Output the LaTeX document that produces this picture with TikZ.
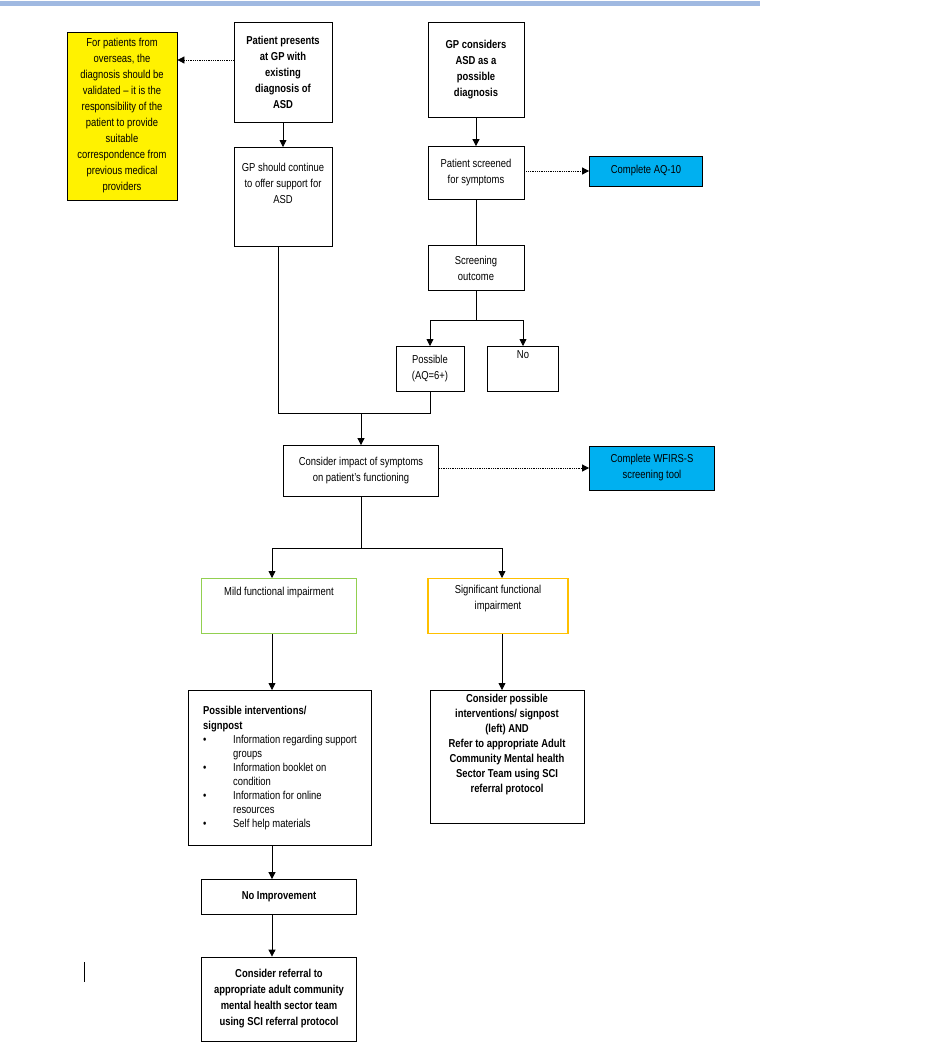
\documentclass[tikz,border=0pt]{standalone}
\usepackage{fontspec}
\setmainfont{Liberation Sans}[FakeStretch=0.82]
\usetikzlibrary{arrows.meta,positioning}
\definecolor{skyfill}{RGB}{0,176,240}
\definecolor{mildgreen}{RGB}{146,208,80}
\definecolor{sigorange}{RGB}{255,192,0}
\definecolor{rulerblue}{RGB}{160,185,225}
\begin{document}
\begin{tikzpicture}[x=1pt,y=-1pt,
	box/.style={draw,thick,align=center,inner sep=2pt,font=\fontsize{11.5}{16}\selectfont},
	bold box/.style={box,font=\fontsize{11.5}{16}\selectfont\bfseries},
	flow/.style={-{Triangle[length=7pt,width=7pt]},thick},
	dotted flow/.style={-{Triangle[length=7pt,width=7pt]},thick,densely dotted}]
	\useasboundingbox (0,0) rectangle (932,1058);
	\fill[rulerblue] (0,1) rectangle (760,6);
	\draw[thick] (84,962) -- (84,982);
	
	% left branch
	\node[box,fill=yellow,minimum width=110,minimum height=168] (overseas) at (122,116) {For patients from\\overseas, the\\diagnosis should be\\validated -- it is the\\responsibility of the\\patient to provide\\suitable\\correspondence from\\previous medical\\providers};
	\node[bold box,minimum width=98,minimum height=100] (existing) at (283,72) {Patient presents\\at GP with\\existing\\diagnosis of\\ASD};
	\node[box,minimum width=98,minimum height=99,anchor=north] (support) at (283,147) {GP should continue\\to offer support for\\ASD\\[12pt]};
	\node[bold box,minimum width=96,minimum height=95] (considers) at (476,70) {GP considers\\ASD as a\\possible\\diagnosis};
	
	% screening
	\node[box,minimum width=96,minimum height=53] (screened) at (476,173) {Patient screened\\for symptoms};
	\node[box,fill=skyfill,minimum width=113,minimum height=30] (aq) at (646,171) {Complete AQ-10};
	\node[box,minimum width=96,minimum height=45] (outcome) at (476,268) {Screening\\outcome};
	\node[box,minimum width=68,minimum height=45,anchor=north] (possible) at (430,346) {Possible\\(AQ=6+)};
	\node[box,minimum width=71,minimum height=45,anchor=north] (no) at (523,346) {No\\[12pt]};
	
	% impact
	\node[box,minimum width=155,minimum height=51] (impact) at (361,471) {Consider impact of symptoms\\on patient's functioning};
	\node[box,fill=skyfill,minimum width=125,minimum height=44] (wfirs) at (652,468) {Complete WFIRS-S\\screening tool};
	\node[box,draw=mildgreen,very thick,minimum width=155,minimum height=55,anchor=north] (mild) at (279,578) {Mild functional impairment\\[14pt]};
	\node[box,draw=sigorange,very thick,minimum width=140,minimum height=55,anchor=north] (significant) at (498,578) {Significant functional\\impairment\\[2pt]};
	
	% interventions
	\node[box,align=left,minimum width=183,minimum height=155,anchor=north,inner sep=4pt] (interventions) at (280,690) {\textbf{Possible interventions/}\\[-1pt]\textbf{signpost}\\[-2pt]
		\makebox[30pt][l]{\textbullet}Information regarding support\\[-2pt]\hspace*{30pt}groups\\[-2pt]
		\makebox[30pt][l]{\textbullet}Information booklet on\\[-2pt]\hspace*{30pt}condition\\[-2pt]
		\makebox[30pt][l]{\textbullet}Information for online\\[-2pt]\hspace*{30pt}resources\\[-2pt]
		\makebox[30pt][l]{\textbullet}Self help materials};
	\node[bold box,minimum width=154,minimum height=133,anchor=north,font=\fontsize{11.5}{15}\selectfont\bfseries] (refer) at (507,690) {Consider possible\\interventions/ signpost\\(left) AND\\Refer to appropriate Adult\\Community Mental health\\Sector Team using SCI\\referral protocol\\[12pt]};
	\node[bold box,minimum width=155,minimum height=35] (noimprove) at (279,897) {No Improvement};
	\node[bold box,minimum width=155,minimum height=84] (referral) at (279,999) {Consider referral to\\appropriate adult community\\mental health sector team\\using SCI referral protocol};
	
	\coordinate (split1) at (476,320);
	\coordinate (join) at (361,413);
	\coordinate (split2) at (361,548);
	
	\draw[flow] (existing) -- (support);
	\draw[dotted flow] (existing.west |- 0,60) -- (overseas.east |- 0,60);
	\draw[flow] (considers) -- (screened);
	\draw[dotted flow] (screened.east |- aq) -- (aq);
	\draw[thick] (screened) -- (outcome);
	\draw[thick] (outcome) -- (split1);
	\draw[flow] (split1) -| (possible.north);
	\draw[flow] (split1) -| (no.north);
	\draw[thick] (support.south -| 278,0) |- (join);
	\draw[thick] (possible.south) |- (join);
	\draw[flow] (join) -- (impact);
	\draw[dotted flow] (impact.east |- wfirs) -- (wfirs);
	\draw[thick] (impact.south -| split2) -- (split2);
	\draw[flow] (split2) -| (mild.north -| 272,0);
	\draw[flow] (split2) -| (significant.north -| 502,0);
	\draw[flow] (mild.south -| 272,0) -- (interventions.north -| 272,0);
	\draw[flow] (significant.south -| 502,0) -- (refer.north -| 502,0);
	\draw[flow] (interventions.south -| 272,0) -- (noimprove.north -| 272,0);
	\draw[flow] (noimprove.south -| 272,0) -- (referral.north -| 272,0);
\end{tikzpicture}
\end{document}
